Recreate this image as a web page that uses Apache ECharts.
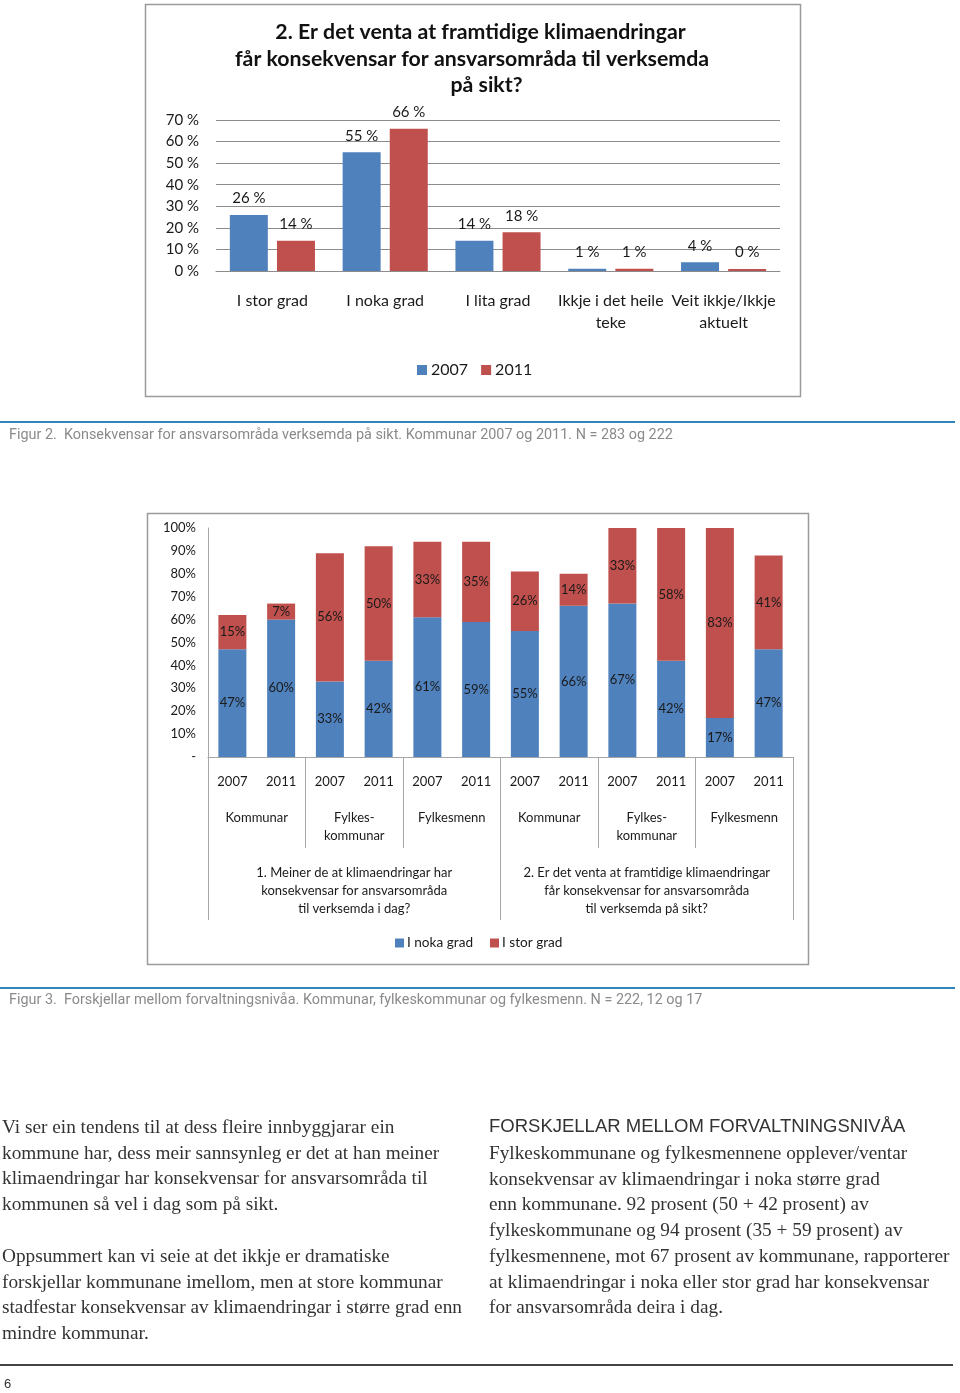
<!DOCTYPE html>
<html><head><meta charset="utf-8">
<script src="https://cdn.jsdelivr.net/npm/echarts@6/dist/echarts.min.js"></script>
<style>html,body{margin:0;padding:0;background:#fff}#c{width:960px;height:1393px}</style>
</head><body><div id="c"></div>
<script>
// ---- Figure 2 data ----
const topCategories = ['I stor grad', 'I noka grad', 'I lita grad', 'Ikkje i det heile\nteke', 'Veit ikkje/Ikkje\naktuelt'];
const topSeriesNames = ['2007', '2011'];
const top2007 = [26, 55, 14, 1, 4];
const top2011 = [14, 66, 18, 1, 0];
const topTitle = ['2. Er det venta at framtidige klimaendringar', 'får konsekvensar for ansvarsområda til verksemda', 'på sikt?'];

// ---- Figure 3 data ----
const botYears = ['2007', '2011', '2007', '2011', '2007', '2011', '2007', '2011', '2007', '2011', '2007', '2011'];
const botGroups = ['Kommunar', 'Fylkes-\nkommunar', 'Fylkesmenn', 'Kommunar', 'Fylkes-\nkommunar', 'Fylkesmenn'];
const botQuestions = ['1. Meiner de at klimaendringar har\nkonsekvensar for ansvarsområda\ntil verksemda i dag?',
  '2. Er det venta at framtidige klimaendringar\nfår konsekvensar for ansvarsområda\ntil verksemda på sikt?'];
const botSeriesNames = ['I noka grad', 'I stor grad'];
const botNoka = [47, 60, 33, 42, 61, 59, 55, 66, 67, 42, 17, 47];
const botStor = [15, 7, 56, 50, 33, 35, 26, 14, 33, 58, 83, 41];

// ---- Page text ----
const caption1 = 'Figur 2.  Konsekvensar for ansvarsområda verksemda på sikt. Kommunar 2007 og 2011. N = 283 og 222';
const caption2 = 'Figur 3.  Forskjellar mellom forvaltningsnivåa. Kommunar, fylkeskommunar og fylkesmenn. N = 222, 12 og 17';
const leftPara1 = ['Vi ser ein tendens til at dess fleire innbyggjarar ein', 'kommune har, dess meir sannsynleg er det at han meiner', 'klimaendringar har konsekvensar for ansvarsområda til', 'kommunen så vel i dag som på sikt.'];
const leftPara2 = ['Oppsummert kan vi seie at det ikkje er dramatiske', 'forskjellar kommunane imellom, men at store kommunar', 'stadfestar konsekvensar av klimaendringar i større grad enn', 'mindre kommunar.'];
const rightHeading = 'FORSKJELLAR MELLOM FORVALTNINGSNIVÅA';
const rightPara = ['Fylkeskommunane og fylkesmennene opplever/ventar', 'konsekvensar av klimaendringar i noka større grad', 'enn kommunane. 92 prosent (50 + 42 prosent) av', 'fylkeskommunane og 94 prosent (35 + 59 prosent) av', 'fylkesmennene, mot 67 prosent av kommunane, rapporterer', 'at klimaendringar i noka eller stor grad har konsekvensar', 'for ansvarsområda deira i dag.'];
const pageNumber = '6';

const BLUE = '#4f81bd', RED = '#c0504d';
const CF = 'Lato, "Open Sans", sans-serif';
const TXT = '#1a1a1a';
const GRID = '#8c8c8c';
const SEP = '#a6a6a6';

const chart = echarts.init(document.getElementById('c'), null, {renderer: 'canvas'});

const graphics = [];
// chart boxes
graphics.push({type: 'rect', shape: {x: 145.5, y: 4.5, width: 655, height: 392}, style: {fill: 'none', stroke: '#9a9a9a', lineWidth: 1.5}, z: 0});
graphics.push({type: 'rect', shape: {x: 147.5, y: 513.5, width: 661, height: 451}, style: {fill: 'none', stroke: '#9a9a9a', lineWidth: 1.5}, z: 0});
// caption rules
graphics.push({type: 'line', shape: {x1: 0, y1: 422, x2: 955, y2: 422}, style: {stroke: '#2f86b8', lineWidth: 2}});
graphics.push({type: 'line', shape: {x1: 0, y1: 988, x2: 955, y2: 988}, style: {stroke: '#2f86b8', lineWidth: 2}});
const capFont = '14.4px Roboto, sans-serif';
graphics.push({type: 'text', style: {text: caption1, x: 9, y: 435.5, verticalAlign: 'middle', font: capFont, fill: '#8a8a8a'}});
graphics.push({type: 'text', style: {text: caption2, x: 9, y: 1000.5, verticalAlign: 'middle', font: capFont, fill: '#8a8a8a'}});
// body text
const serif = '19.3px "Liberation Serif", "Times New Roman", serif';
const LH = 25.7;
leftPara1.forEach((t, i) => graphics.push({type: 'text', style: {text: t, x: 2, y: 1128 + i * LH, verticalAlign: 'middle', font: serif, fill: '#333'}}));
leftPara2.forEach((t, i) => graphics.push({type: 'text', style: {text: t, x: 2, y: 1257 + i * LH, verticalAlign: 'middle', font: serif, fill: '#333'}}));
graphics.push({type: 'text', style: {text: rightHeading, x: 489, y: 1127, verticalAlign: 'middle', font: '18.5px "Liberation Sans", Arial, sans-serif', fill: '#333'}});
rightPara.forEach((t, i) => graphics.push({type: 'text', style: {text: t, x: 489, y: 1154 + i * LH, verticalAlign: 'middle', font: serif, fill: '#333'}}));
graphics.push({type: 'line', shape: {x1: 0, y1: 1365, x2: 953, y2: 1365}, style: {stroke: '#444', lineWidth: 2}});
graphics.push({type: 'text', style: {text: pageNumber, x: 4, y: 1384, verticalAlign: 'middle', font: '13px "Liberation Sans", sans-serif', fill: '#333'}});

const titleCenters = [475.5, 467, 481.5];
const titleTops = [17, 44, 70];
const titles = topTitle.map((t, i) => ({
  text: t, left: titleCenters[i], top: titleTops[i], textAlign: 'center',
  textStyle: {fontFamily: CF, fontWeight: 'bold', fontSize: 21.3, color: '#111'}
}));

const option = {
  animation: false,
  backgroundColor: '#fff',
  title: titles,
  legend: [
    {data: topSeriesNames, left: 417, top: 362, padding: 0, itemWidth: 10, itemHeight: 10, itemGap: 13,
      icon: 'rect', textStyle: {fontFamily: CF, fontSize: 16, color: TXT, padding: [0, 0, 0, -1]}},
    {data: botSeriesNames, left: 395, top: 936, padding: 0, itemWidth: 9, itemHeight: 9, itemGap: 17,
      icon: 'rect', textStyle: {fontFamily: CF, fontSize: 13.6, color: TXT, padding: [0, 0, 0, -2]}}
  ],
  grid: [
    {left: 216, top: 120, width: 564, height: 151},
    {left: 208, top: 528, width: 585, height: 229}
  ],
  xAxis: [
    {gridIndex: 0, type: 'category', data: topCategories, position: 'bottom',
      axisLine: {lineStyle: {color: GRID}}, axisTick: {show: false},
      axisLabel: {interval: 0, margin: 19, fontFamily: CF, fontSize: 16, lineHeight: 22, color: TXT}},
    {gridIndex: 1, type: 'category', data: botYears, position: 'bottom',
      axisLine: {lineStyle: {color: SEP}}, axisTick: {show: false},
      axisLabel: {interval: 0, margin: 18, fontFamily: CF, fontSize: 13, color: TXT}},
    {gridIndex: 1, type: 'category', data: botGroups, position: 'bottom',
      axisLine: {show: false},
      axisTick: {show: true, interval: 0, alignWithLabel: false, length: 91, lineStyle: {color: SEP}},
      axisLabel: {interval: 0, margin: 52, fontFamily: CF, fontSize: 13, lineHeight: 18, color: TXT}},
    {gridIndex: 1, type: 'category', data: botQuestions, position: 'bottom',
      axisLine: {show: false},
      axisTick: {show: true, interval: 0, alignWithLabel: false, length: 163, lineStyle: {color: SEP}},
      axisLabel: {interval: 0, margin: 107, fontFamily: CF, fontSize: 13, lineHeight: 18, color: TXT}}
  ],
  yAxis: [
    {gridIndex: 0, type: 'value', min: 0, max: 70, interval: 10,
      axisLine: {show: false}, axisTick: {show: false},
      splitLine: {lineStyle: {color: GRID, width: 1}},
      axisLabel: {margin: 17, fontFamily: CF, fontSize: 15, color: TXT, formatter: v => v + ' %'}},
    {gridIndex: 1, type: 'value', min: 0, max: 100, interval: 10,
      axisLine: {show: true, lineStyle: {color: SEP}}, axisTick: {show: false}, splitLine: {show: false},
      axisLabel: {margin: 12, fontFamily: CF, fontSize: 13, color: TXT, formatter: v => v === 0 ? '-' : v + '%'}}
  ],
  series: [
    {name: topSeriesNames[0], type: 'bar', xAxisIndex: 0, yAxisIndex: 0, data: top2007,
      barWidth: 38, barGap: '24%', barMinHeight: 2, itemStyle: {color: BLUE},
      label: {show: true, position: 'top', distance: 9, fontFamily: CF, fontSize: 15, color: TXT, formatter: p => p.value + ' %'}},
    {name: topSeriesNames[1], type: 'bar', xAxisIndex: 0, yAxisIndex: 0, data: top2011,
      barWidth: 38, barGap: '24%', barMinHeight: 2, itemStyle: {color: RED},
      label: {show: true, position: 'top', distance: 9, fontFamily: CF, fontSize: 15, color: TXT, formatter: p => p.value + ' %'}},
    {name: botSeriesNames[0], type: 'bar', xAxisIndex: 1, yAxisIndex: 1, data: botNoka, stack: 'b',
      barWidth: 28, itemStyle: {color: BLUE},
      label: {show: true, position: 'inside', fontFamily: CF, fontSize: 13, color: TXT, formatter: p => p.value + '%'}},
    {name: botSeriesNames[1], type: 'bar', xAxisIndex: 1, yAxisIndex: 1, data: botStor, stack: 'b',
      barWidth: 28, itemStyle: {color: RED},
      label: {show: true, position: 'inside', fontFamily: CF, fontSize: 13, color: TXT, formatter: p => p.value + '%'}}
  ],
  graphic: graphics
};
chart.setOption(option);
</script>
</body></html>
